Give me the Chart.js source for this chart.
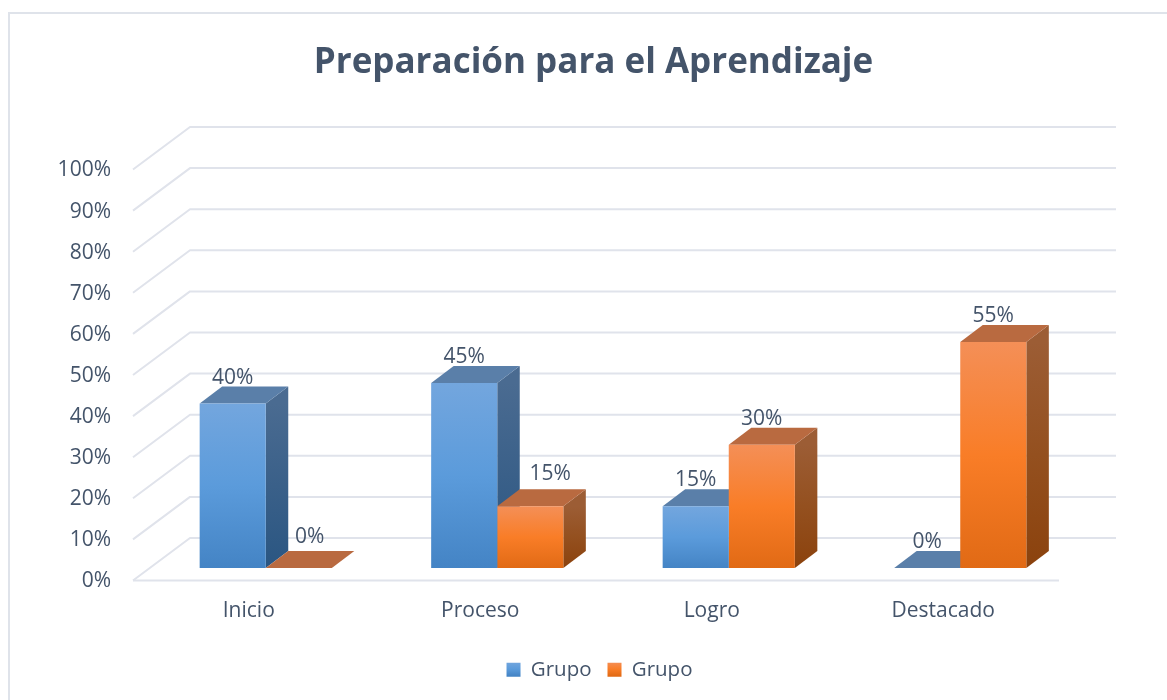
<!DOCTYPE html>
<html><head><meta charset="utf-8">
<style>html,body{margin:0;padding:0;background:#fff}canvas{display:block}</style>
<script src="https://cdn.jsdelivr.net/npm/chart.js@4"></script>
</head><body><canvas id="c" width="1167" height="700"></canvas>
<script>
const categories = ['Inicio','Proceso','Logro','Destacado'];
const seriesBlue = [40,45,15,0];
const seriesOrange = [0,15,30,55];
const seriesNames = ['Grupo','Grupo'];
const chartTitle = 'Preparación para el Aprendizaje';

const TEXT='#44546a', GRID='#e0e3eb';
const FONT='"Open Sans"';
const WALL={dx:57,dy:-42.5}, BAR={dx:22.5,dy:-17}, SHIFT={dx:17,dy:-12.5};
const faces=[
 {front:['#73a6de','#5b9bdb','#4484c5'],top:'#5a7fa9',side:['#4a6b91','#3a6089','#2a5682']},
 {front:['#f48f57','#f97d27','#e16a15'],top:'#b96a40',side:['#9c5d35','#94501f','#8b420d']}
];
const labelShift=[[[0,-26],[0,-26],[0,-26],[0,-26]],[[11,-31],[20,-32],[0,-26],[0,-26]]];

function frontGradient(c,stops,y0,y1){
  const g=c.createLinearGradient(0,y0,0,y1);
  g.addColorStop(0,stops[0]);g.addColorStop(.5,stops[1]);g.addColorStop(1,stops[2]);
  return g;
}
function barFill(di){
  return function(ctx){
    const s=ctx.chart.scales.y; if(!s||ctx.parsed===undefined) return faces[di].front[1];
    const v=ctx.raw||0;
    const y0=s.getPixelForValue(v), y1=s.getPixelForValue(0);
    if(!(y1>y0)) return faces[di].front[1];
    return frontGradient(ctx.chart.ctx,faces[di].front,y0,y1);
  };
}
function poly(c,pts,fill){
  c.beginPath();pts.forEach((p,i)=>i?c.lineTo(p[0],p[1]):c.moveTo(p[0],p[1]));c.closePath();c.fillStyle=fill;c.fill();
}
const box3d={
  id:'box3d',
  afterLayout(ch){ch.legend.left+=6;ch.legend.right+=6;},
  beforeDraw(ch){
    const c=ch.ctx;c.save();c.strokeStyle='#dfe3ea';c.lineWidth=2;
    c.beginPath();c.moveTo(9,700);c.lineTo(9,13);c.lineTo(1167,13);c.stroke();c.restore();
  },
  beforeDatasetsDraw(ch){
    const c=ch.ctx,y=ch.scales.y,a=ch.chartArea;
    c.save();c.strokeStyle=GRID;c.lineWidth=2;c.lineJoin='round';
    y.ticks.forEach(t=>{
      const p=y.getPixelForValue(t.value);
      c.beginPath();c.moveTo(a.left,p);c.lineTo(a.left+WALL.dx,p+WALL.dy);c.lineTo(a.right+WALL.dx,p+WALL.dy);c.stroke();
    });
    const b=y.getPixelForValue(0);
    c.beginPath();c.moveTo(a.left,b);c.lineTo(a.right,b);c.stroke();
    c.restore();
    c.save();c.translate(SHIFT.dx,SHIFT.dy);
    ch.data.datasets.forEach((ds,di)=>{
      const f=faces[di];
      ch.getDatasetMeta(di).data.forEach(bar=>{
        const l=bar.x-bar.width/2,r=bar.x+bar.width/2,t=bar.y,b2=bar.base;
        if(b2-t>0.5){
          const g=frontGradient(c,f.side,t,b2);
          poly(c,[[r,t],[r+BAR.dx,t+BAR.dy],[r+BAR.dx,b2+BAR.dy],[r,b2]],g);
        }
        poly(c,[[l,t],[l+BAR.dx,t+BAR.dy],[r+BAR.dx,t+BAR.dy],[r,t]],f.top);
      });
    });
  },
  afterDatasetsDraw(ch){
    const c=ch.ctx;
    c.font='21px '+FONT;c.fillStyle=TEXT;c.textAlign='center';c.textBaseline='middle';
    ch.data.datasets.forEach((ds,di)=>{
      ch.getDatasetMeta(di).data.forEach((bar,i)=>{
        const s=labelShift[di][i];
        c.fillText(ds.data[i]+'%',bar.x+s[0],bar.y+s[1]);
      });
    });
    c.restore();
  }
};
new Chart(document.getElementById('c'),{
  type:'bar',
  data:{labels:categories,datasets:[
    {label:seriesNames[0],data:seriesBlue,backgroundColor:barFill(0),clip:false,borderWidth:0},
    {label:seriesNames[1],data:seriesOrange,backgroundColor:barFill(1),clip:false,borderWidth:0}
  ]},
  plugins:[box3d],
  options:{
    responsive:false,animation:false,
    layout:{padding:{left:20,right:0,top:0,bottom:10},autoPadding:false},
    datasets:{bar:{categoryPercentage:0.571,barPercentage:1}},
    scales:{
      x:{grid:{display:false},border:{display:false},
         ticks:{color:TEXT,font:{family:FONT,size:21},padding:10,maxRotation:0},
         afterFit(s){s.height=63;}},
      y:{min:0,max:100,grid:{display:false},border:{display:false},
         ticks:{stepSize:10,color:TEXT,font:{family:FONT,size:21},padding:14,labelOffset:1,callback:v=>v+'%'},
         afterFit(s){s.width=113;}},
      r:{position:'right',display:true,grid:{display:false},border:{display:false},
         ticks:{display:false},afterFit(s){s.width=108;}}
    },
    plugins:{
      title:{display:true,text:chartTitle,color:TEXT,font:{family:FONT,size:35,weight:'bold'},padding:{top:42,bottom:85.5}},
      legend:{position:'bottom',labels:{color:TEXT,font:{family:FONT,size:20.5},boxWidth:14,boxHeight:14,padding:16,
        generateLabels(ch){
          return ch.data.datasets.map((d,i)=>({text:d.label,datasetIndex:i,lineWidth:0,strokeStyle:'transparent',fontColor:TEXT,
            fillStyle:frontGradient(ch.ctx,faces[i].front,662,676)}));
        }}},
      tooltip:{enabled:false}
    }
  }
});
</script></body></html>
